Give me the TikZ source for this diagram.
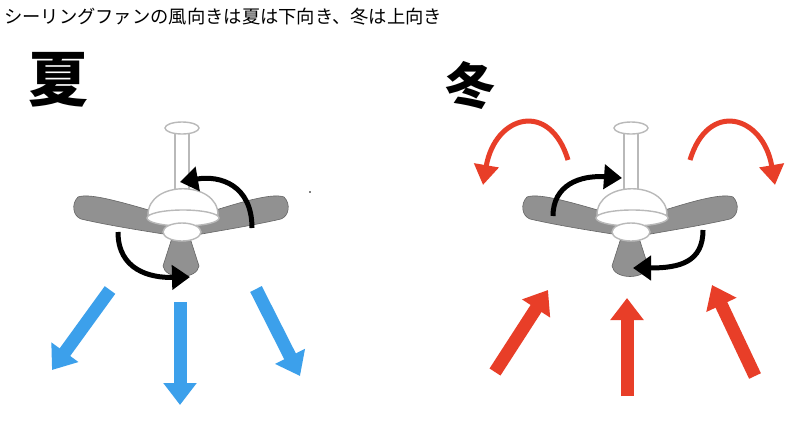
\documentclass[tikz,border=0pt]{standalone}
\usepackage{fontspec}
\newfontfamily\cjk{Noto Sans CJK JP}
\usetikzlibrary{arrows.meta}
\definecolor{bl}{RGB}{60,160,235}
\definecolor{rd}{RGB}{232,62,40}
\definecolor{bladec}{RGB}{145,145,145}
\definecolor{fanline}{RGB}{185,185,185}
\tikzset{
 blade/.style={fill=bladec,draw=bladec!70!black,line width=0.6pt},
 fanpart/.style={fill=white,draw=fanline,line width=1.4pt},
 bigarrow/.style={line width=13pt,-{Triangle[width=32pt,length=22pt]}},
 curvearrow/.style={line width=5pt,-{Triangle[width=24pt,length=18pt]}},
}
\newcommand{\myfan}[1]{%
\begin{scope}[shift={(#1,0)}]
 \fill[fanpart] (-6,128) rectangle (8,200);
 \draw[fanpart] (1,128) ellipse (17 and 6);
 \draw[blade] (-5,218) .. controls (-50,205) and (-90,192) .. (-103,197) .. controls (-110,204) and (-108,216) .. (-100,219) .. controls (-70,226) and (-30,232) .. (-5,236) -- cycle;
 \draw[blade] (10,218) .. controls (50,205) and (90,192) .. (103,197) .. controls (110,204) and (108,216) .. (100,219) .. controls (70,226) and (30,232) .. (10,236) -- cycle;
 \draw[fanpart] (-33,215) .. controls (-33,180) and (37,180) .. (37,215) -- cycle;
 \draw[fanpart] (2,218) ellipse (36 and 8);
 \draw[blade] (-9,238) -- (-18,266) .. controls (-16,280) and (16,280) .. (18,266) -- (9,238) -- cycle;
 \draw[fanpart] (1,232) ellipse (19 and 9);
\end{scope}}
\begin{document}
\begin{tikzpicture}[x=1pt,y=-1pt]
\useasboundingbox (0,0) rectangle (800,445);
\fill[white] (0,0) rectangle (800,445);
\node[anchor=west,font=\cjk\fontsize{18.3}{20}\selectfont,inner sep=0] (title) at (4,17) {シーリングファンの風向きは夏は下向き、冬は上向き};
\node[font=\cjk\bfseries\fontsize{60}{64}\selectfont] (summer) at (58,80) {夏};
\node[font=\cjk\bfseries\fontsize{50}{54}\selectfont] (winter) at (470,85) {冬};
\myfan{181}
\myfan{630}
% summer
\draw[curvearrow] (252,228) .. controls (252,185) and (220,175) .. (180,182);
\draw[curvearrow] (118,232) .. controls (118,270) and (150,278) .. (190,277);
\draw[bl,bigarrow] (110,290) -- (52,370);
\draw[bl,bigarrow] (180,302) -- (180,405);
\draw[bl,bigarrow] (256,289) -- (300,376);
% winter
\draw[curvearrow] (553,216) .. controls (553,185) and (580,175) .. (622,178);
\draw[curvearrow] (703,230) .. controls (703,262) and (680,268) .. (633,268);
\draw[rd,bigarrow] (495,372) -- (548,290);
\draw[rd,bigarrow] (627,396) -- (627,298);
\draw[rd,bigarrow] (755,376) -- (712,285);
\draw[rd,line width=5pt,-{Triangle[width=24pt,length=20pt]}] (568,160) .. controls (550,100) and (495,115) .. (483,185);
\draw[rd,line width=5pt,-{Triangle[width=24pt,length=20pt]}] (690,160) .. controls (708,100) and (763,115) .. (775,185);
\fill (310,192) circle (0.8);
\end{tikzpicture}
\end{document}
